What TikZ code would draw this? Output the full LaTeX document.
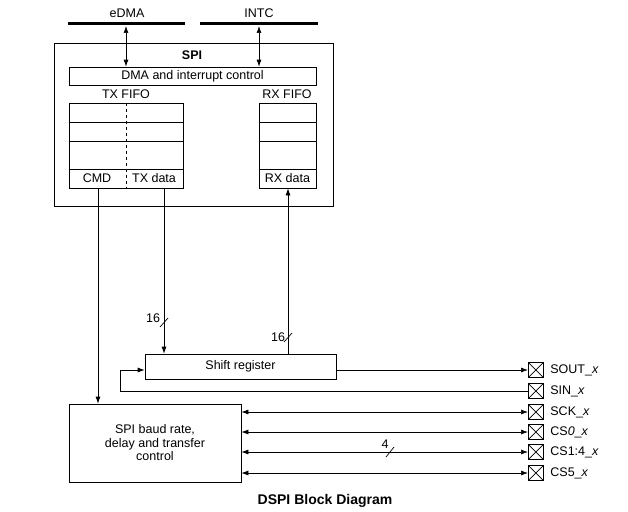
\documentclass[tikz,border=0pt]{standalone}
\usepackage{fontspec}
\setmainfont{Liberation Sans}
\usetikzlibrary{arrows.meta}

\begin{document}
\begin{tikzpicture}[x=1pt,y=-1pt,
    font=\fontsize{12.5}{13.5}\selectfont,
    line width=0.7pt,
    arr/.style={-{Latex[length=7pt,width=5pt]}},
    darr/.style={{Latex[length=7pt,width=5pt]}-{Latex[length=7pt,width=5pt]}},
    box/.style={draw, inner sep=0pt},
    bus/.style={line width=3pt},
    pad/.style={draw, minimum size=15pt, inner sep=0pt, anchor=west,
      path picture={\draw (path picture bounding box.north west) -- (path picture bounding box.south east)
        (path picture bounding box.south west) -- (path picture bounding box.north east);}}]
    \useasboundingbox (0,0) rectangle (628,511);
    % Buses
    \node (edma) at (127,13) {eDMA};
    \node (intc) at (259,13) {INTC};
    \draw[bus] (68,24) -- (185,24);
    \draw[bus] (200,24) -- (318,24);
    \coordinate (edmaport) at (126,26);
    \coordinate (intcport) at (259,26);
    % SPI block
    \node[box, minimum width=279pt, minimum height=163pt] (spi) at (193.5,124.5) {};
    \node[font=\fontsize{12.5}{13.5}\selectfont\bfseries] (spilabel) at (192,55) {SPI};
    \node[box, minimum width=247pt, minimum height=18pt] (dma) at (192.5,76) {DMA and interrupt control};
    \draw[darr] (edmaport) -- (edmaport |- dma.north);
    \draw[darr] (intcport) -- (intcport |- dma.north);
    % FIFOs
    \node (txlabel) at (126,94) {TX FIFO};
    \node (rxlabel) at (287,94) {RX FIFO};
    \node[box, minimum width=114pt, minimum height=85pt] (txfifo) at (126,145.5) {};
    \node[box, minimum width=57pt, minimum height=85pt] (rxfifo) at (287.5,145.5) {};
    \foreach \y in {122,141,169} {
      \draw (txfifo.west |- 0,\y) -- (txfifo.east |- 0,\y);
      \draw (rxfifo.west |- 0,\y) -- (rxfifo.east |- 0,\y);
    }
    \draw[dashed] (txfifo.north) -- (txfifo.south);
    \node (cmd) at (97,178.5) {CMD};
    \node (txdata) at (154,178.5) {TX data};
    \node (rxdata) at (287.5,178.5) {RX data};
    % Shift register and control
    \node[box, minimum width=191pt, minimum height=25pt] (shift) at (240.5,366.5) {Shift register};
    \node[box, minimum width=172pt, minimum height=78pt, align=center] (baud) at (155,443)
      {SPI baud rate,\\delay and transfer\\control};
    % Pins
    \foreach \pin/\y/\txt in {sout/370/{SOUT\_\textit{x}}, sin/391/{SIN\_\textit{x}},
        sck/412/{SCK\_\textit{x}}, csa/432/{CS\textit{0}\_\textit{x}},
        csb/452/{CS1:4\_\textit{x}}, csc/473/{CS5\_\textit{x}}} {
      \node[pad] (\pin) at (528,\y) {};
      \node[anchor=west, xshift=3pt] (\pin label) at (\pin.east) {\txt};
    }
    % Connections
    \coordinate (cmdtap) at (98,188);
    \coordinate (txtap) at (164,188);
    \coordinate (rxtap) at (288,354);
    \coordinate (loop) at (120,370);
    \draw[arr] (cmdtap) -- (cmdtap |- baud.north);
    \draw[arr] (txtap) -- (txtap |- shift.north);
    \draw[arr] (rxtap) -- (rxtap |- rxfifo.south);
    \draw[arr] (shift.east |- sout) -- (sout.west);
    \draw[arr] (sin.west) -| (loop) -- (shift.west |- loop);
    \foreach \pin in {sck,csa,csb,csc}
      \draw[darr] (baud.east |- \pin) -- (\pin.west);
    % Bus widths
    \draw (160,327) -- (168,318);
    \node (txwidth) at (153,318) {16};
    \draw (284,342) -- (292,333);
    \node (rxwidth) at (278,337) {16};
    \draw (386,457) -- (394,447);
    \node (cswidth) at (385,444) {4};
    % Title
    \node[font=\fontsize{14}{16}\selectfont\bfseries] (title) at (325,501) {DSPI Block Diagram};
\end{tikzpicture}
\end{document}
